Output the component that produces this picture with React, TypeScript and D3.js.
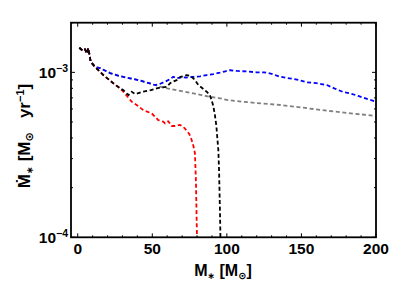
import React from 'react';
import * as d3 from 'd3';

// stellar mass [Msun] vs accretion rate [Msun/yr]
const blueX = [1.1, 3.4, 4.9, 6.0, 7.1, 8.7, 11.6, 15, 21.7, 28, 35, 40.6, 46, 51.8, 55, 58.5, 62, 64.1, 66.4, 69.7, 73, 77.5, 82, 86.5, 91, 95.4, 99, 102.2, 107, 115, 120, 125, 130, 135.7, 142, 148, 153.6, 160, 167, 172, 178, 182.6, 188, 194, 200];
const blueY = [1.41e-3, 1.35e-3, 1.38e-3, 1.30e-3, 1.40e-3, 1.16e-3, 1.08e-3, 1.06e-3, 0.99e-3, 0.95e-3, 0.92e-3, 0.898e-3, 0.87e-3, 0.838e-3, 0.85e-3, 0.877e-3, 0.91e-3, 0.94e-3, 0.92e-3, 0.935e-3, 0.93e-3, 0.94e-3, 0.945e-3, 0.963e-3, 0.976e-3, 0.995e-3, 1.015e-3, 1.03e-3, 1.02e-3, 1.01e-3, 1.0e-3, 1.0e-3, 0.98e-3, 0.94e-3, 0.92e-3, 0.90e-3, 0.87e-3, 0.86e-3, 0.838e-3, 0.80e-3, 0.76e-3, 0.746e-3, 0.72e-3, 0.69e-3, 0.664e-3];

const greyX = [1.1, 3.4, 4.9, 6.0, 7.1, 8.7, 11.6, 15, 21.7, 28, 35, 40.6, 46, 51.8, 55.2, 60, 66.4, 72, 77.5, 83, 88.7, 95.4, 100, 110, 120, 135.7, 150, 169, 185, 200];
const greyY = [1.41e-3, 1.35e-3, 1.38e-3, 1.30e-3, 1.40e-3, 1.16e-3, 1.08e-3, 1.06e-3, 0.99e-3, 0.95e-3, 0.92e-3, 0.898e-3, 0.87e-3, 0.838e-3, 0.818e-3, 0.80e-3, 0.78e-3, 0.762e-3, 0.746e-3, 0.728e-3, 0.711e-3, 0.696e-3, 0.68e-3, 0.665e-3, 0.652e-3, 0.634e-3, 0.612e-3, 0.583e-3, 0.562e-3, 0.544e-3];

const blackX = [1.1, 3.4, 4.9, 6.0, 7.1, 8.7, 11.6, 17.2, 23.9, 28.4, 30.6, 34, 36.2, 38.4, 44, 49, 53, 56, 59.7, 62, 64, 66.4, 69, 71, 73.1, 74.5, 76.4, 78.5, 80.9, 83, 86.5, 88.5, 89.8, 91, 92, 93, 93.6, 94.3, 94.8, 95.4, 95.8];
const blackY = [1.41e-3, 1.35e-3, 1.38e-3, 1.30e-3, 1.40e-3, 1.16e-3, 1.08e-3, 0.963e-3, 0.858e-3, 0.80e-3, 0.78e-3, 0.728e-3, 0.763e-3, 0.739e-3, 0.763e-3, 0.78e-3, 0.80e-3, 0.81e-3, 0.818e-3, 0.86e-3, 0.88e-3, 0.898e-3, 0.94e-3, 0.95e-3, 0.963e-3, 0.955e-3, 0.94e-3, 0.9e-3, 0.838e-3, 0.81e-3, 0.763e-3, 0.73e-3, 0.68e-3, 0.62e-3, 0.55e-3, 0.47e-3, 0.40e-3, 0.338e-3, 0.25e-3, 0.14e-3, 0.09e-3];

const redX = [1.1, 3.4, 4.9, 6.0, 7.1, 8.7, 11.6, 17.2, 23.9, 28.4, 30.6, 36.2, 40, 44, 49.6, 54, 57.4, 58.5, 60.7, 63, 65.2, 68.6, 71, 73.1, 75, 76.4, 77.5, 78.6, 79.3, 79.8, 80.1];
const redY = [1.41e-3, 1.35e-3, 1.38e-3, 1.30e-3, 1.40e-3, 1.16e-3, 1.08e-3, 0.963e-3, 0.858e-3, 0.80e-3, 0.763e-3, 0.664e-3, 0.63e-3, 0.59e-3, 0.564e-3, 0.514e-3, 0.502e-3, 0.49e-3, 0.506e-3, 0.473e-3, 0.473e-3, 0.48e-3, 0.465e-3, 0.443e-3, 0.42e-3, 0.389e-3, 0.36e-3, 0.323e-3, 0.213e-3, 0.12e-3, 0.09e-3];

const xMajor = [0, 50, 100, 150, 200];
const xMinor = d3.range(0, 201, 10);
const yMajor = [1e-4, 1e-3];
const yMinor = [2e-4, 3e-4, 4e-4, 5e-4, 6e-4, 7e-4, 8e-4, 9e-4, 2e-3];
const yTickExp = ['−4', '−3'];

const series = [
  { xs: greyX, ys: greyY, color: '#808080' },
  { xs: blueX, ys: blueY, color: '#0000ff' },
  { xs: redX, ys: redY, color: '#ff0000' },
  { xs: blackX, ys: blackY, color: '#000000' },
];

const W = 407;
const H = 283;
const left = 71, right = 376, top = 22.7, bottom = 237.3;

export default function App() {
  const x = d3.scaleLinear().domain([-4.5, 200]).range([left, right]);
  const y = d3.scaleLog().domain([1e-4, 2e-3]).range([bottom, top]);
  const font = "'Liberation Sans', 'DejaVu Sans', Arial, sans-serif";

  return (
    <svg width={W} height={H} style={{ position: 'absolute', left: 0, top: 0, background: '#fff' }}>
      <defs>
        <clipPath id="plot">
          <rect x={left} y={top} width={right - left} height={bottom - top} />
        </clipPath>
      </defs>

      <g clipPath="url(#plot)">
        {series.map((s, i) => {
          const pts = s.xs.map((v, j) => [v, s.ys[j]] as [number, number]);
          const line = d3.line<[number, number]>().x(d => x(d[0])).y(d => y(d[1]));
          return (
            <path key={i} d={line(pts) || ''} fill="none" stroke={s.color}
              strokeWidth={1.8} strokeDasharray="4,2.6" strokeLinejoin="round" />
          );
        })}
      </g>

      {/* ticks, all drawn inward on every side */}
      <g stroke="#000" strokeWidth={1}>
        {xMinor.map(t => {
          const len = xMajor.includes(t) ? 4 : 2;
          return (
            <g key={'xt' + t}>
              <line x1={x(t)} x2={x(t)} y1={bottom} y2={bottom - len} />
              <line x1={x(t)} x2={x(t)} y1={top} y2={top + len} />
            </g>
          );
        })}
        {yMajor.concat(yMinor).map(t => {
          const len = yMajor.includes(t) ? 4 : 2;
          return (
            <g key={'yt' + t}>
              <line x1={left} x2={left + len} y1={y(t)} y2={y(t)} />
              <line x1={right} x2={right - len} y1={y(t)} y2={y(t)} />
            </g>
          );
        })}
      </g>

      <rect x={left} y={top} width={right - left} height={bottom - top}
        fill="none" stroke="#000" strokeWidth={1.8} />

      <g fontFamily={font} fontWeight="bold" fill="#000">
        {xMajor.map(t => (
          <text key={'xl' + t} x={x(t)} y={253.5} fontSize={15.5} textAnchor="middle">{t}</text>
        ))}
        {yMajor.map((t, i) => (
          <text key={'yl' + t} x={68} y={y(t) + 6} fontSize={15.5} textAnchor="end">
            10<tspan fontSize={10.5} dy={-6}>{yTickExp[i]}</tspan>
          </text>
        ))}

        <text x={223} y={276} fontSize={16} textAnchor="middle">
          M<tspan fontSize={9} dy={3}>∗</tspan><tspan dy={-3}> [M</tspan><tspan fontSize={10} dy={3}>⊙</tspan><tspan dy={-3}>]</tspan>
        </text>

        <text transform="translate(30,136) rotate(-90)" fontSize={17} textAnchor="middle">
          Ṁ<tspan fontSize={9.5} dy={3}>∗</tspan><tspan dy={-3}>{' [M'}</tspan><tspan fontSize={11} dy={3}>⊙</tspan><tspan dy={-3}>{'\u00a0\u00a0\u00a0yr'}</tspan><tspan fontSize={11} dy={-6}>−1</tspan><tspan dy={6}>]</tspan>
        </text>
      </g>
    </svg>
  );
}
